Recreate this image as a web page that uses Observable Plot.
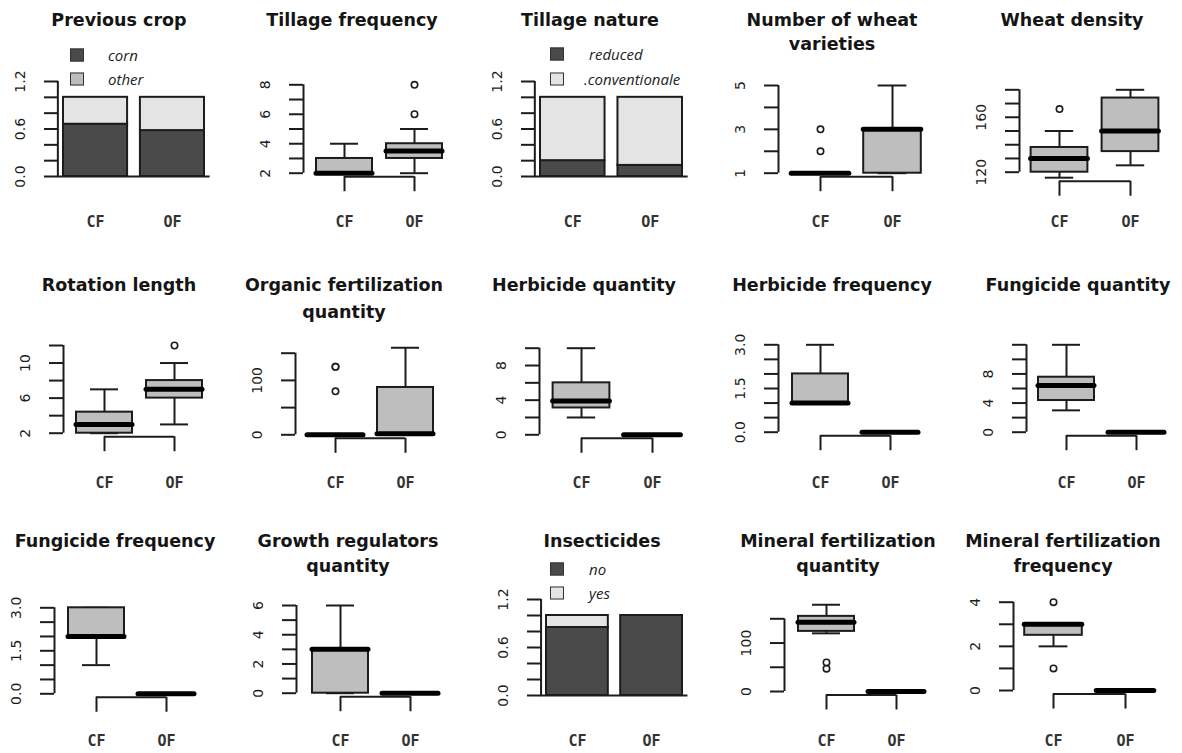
<!DOCTYPE html>
<html>
<head>
<meta charset="utf-8">
<script src="https://cdn.jsdelivr.net/npm/d3@7"></script>
<script src="https://cdn.jsdelivr.net/npm/@observablehq/plot@0.6"></script>
<style>
html, body { margin: 0; padding: 0; background: #fff; overflow: hidden; }
#root { position: relative; width: 1182px; height: 753px; overflow: hidden; background: #fff; }
.title { position: absolute; transform: translate(-50%, -50%); font-family: "DejaVu Sans", sans-serif; font-weight: bold; font-size: 17.5px; color: #151515; white-space: nowrap; line-height: 1; }
.leg { position: absolute; transform: translateY(-50%); font-family: "Open Sans", sans-serif; font-style: italic; font-size: 15px; color: #222; white-space: nowrap; line-height: 1; }
.sw { position: absolute; width: 14px; height: 13px; border: 1px solid #333; box-sizing: border-box; transform: translateY(-50%); }
</style>
</head>
<body>
<div id="root"></div>
<script>
// ---------------- DATA ----------------
const groups = ["CF", "OF"];

// stacked share bars
const shareTicks = [0, 0.2, 0.4, 0.6, 0.8, 1.0, 1.2];
const shareLabels = [0, 0.6, 1.2];
const prevCropCorn = [0.66, 0.58];
const prevCropOther = [0.34, 0.42];
const tillNatureReduced = [0.20, 0.14];
const tillNatureConv = [0.80, 0.86];
const insectNo = [0.85, 1.0];
const insectYes = [0.15, 0.0];

// box statistics: [lower whisker, Q1, median, Q3, upper whisker]
const tillFreqCF = [2, 2, 2, 3, 4];
const tillFreqOF = [2, 3, 3.5, 4, 5];
const tillFreqOutCF = [];
const tillFreqOutOF = [6, 8];
const tillFreqTicks = [2, 3, 4, 5, 6, 7, 8];
const tillFreqLabels = [2, 4, 6, 8];

const varietiesCF = [1, 1, 1, 1, 1];
const varietiesOF = [1, 1, 3, 3, 5];
const varietiesOutCF = [2, 3];
const varietiesOutOF = [];
const varietiesTicks = [1, 2, 3, 4, 5];
const varietiesLabels = [1, 3, 5];

const densityCF = [116, 120, 130, 138, 150];
const densityOF = [125, 135, 150, 174, 180];
const densityOutCF = [166];
const densityOutOF = [];
const densityTicks = [120, 130, 140, 150, 160, 170, 180];
const densityLabels = [120, 160];

const rotationCF = [2, 2, 3, 4.4, 7];
const rotationOF = [3, 6, 7, 8, 10];
const rotationOutCF = [];
const rotationOutOF = [12];
const rotationTicks = [2, 4, 6, 8, 10, 12];
const rotationLabels = [2, 6, 10];

const orgFertCF = [0, 0, 0, 0, 0];
const orgFertOF = [0, 0, 2, 87, 160];
const orgFertOutCF = [80, 125, 125];
const orgFertOutOF = [];
const orgFertTicks = [0, 50, 100, 150];
const orgFertLabels = [0, 100];

const herbQtyCF = [2, 3.1, 3.9, 6, 10];
const herbQtyOF = [0, 0, 0, 0, 0];
const herbQtyTicks = [0, 2, 4, 6, 8, 10];
const herbQtyLabels = [0, 4, 8];

const herbFreqCF = [1, 1, 1, 2, 3];
const herbFreqOF = [0, 0, 0, 0, 0];
const herbFreqTicks = [0, 0.5, 1, 1.5, 2, 2.5, 3];
const herbFreqLabels = [0, 1.5, 3];

const fungQtyCF = [3, 4.35, 6.4, 7.55, 12];
const fungQtyOF = [0, 0, 0, 0, 0];
const fungQtyTicks = [0, 2, 4, 6, 8, 10, 12];
const fungQtyLabels = [0, 4, 8];

const fungFreqCF = [1, 2, 2, 3, 3];
const fungFreqOF = [0, 0, 0, 0, 0];
const fungFreqTicks = [0, 0.5, 1, 1.5, 2, 2.5, 3];
const fungFreqLabels = [0, 1.5, 3];

const growthCF = [0, 0, 3, 3, 6];
const growthOF = [0, 0, 0, 0, 0];
const growthTicks = [0, 1, 2, 3, 4, 5, 6];
const growthLabels = [0, 2, 4, 6];

const minQtyCF = [120, 124, 143, 155, 179];
const minQtyOF = [0, 0, 0, 0, 0];
const minQtyOutCF = [47, 60];
const minQtyTicks = [0, 50, 100, 150];
const minQtyLabels = [0, 100];

const minFreqCF = [2, 2.5, 3, 3, 3];
const minFreqOF = [0, 0, 0, 0, 0];
const minFreqOutCF = [1, 4];
const minFreqTicks = [0, 1, 2, 3, 4];
const minFreqLabels = [0, 2, 4];

// ---------------- LAYOUT (page pixels) ----------------
const layout = {
  prevCrop:  {row: 0, col: 0, axis: 58,   a: 63,   b: 204,  y0: 176,   y1: 81,    title: ["Previous crop"], tx: 119},
  tillFreq:  {row: 0, col: 1, axis: 303,  a: 344,  b: 414,  y0: 172.7, y1: 84.3,  title: ["Tillage frequency"], tx: 352},
  tillNat:   {row: 0, col: 2, axis: 535,  a: 540,  b: 682,  y0: 176,   y1: 81,    title: ["Tillage nature"], tx: 590},
  varieties: {row: 0, col: 3, axis: 778,  a: 820,  b: 892,  y0: 172.7, y1: 85,    title: ["Number of wheat", "varieties"], tx: 832},
  density:   {row: 0, col: 4, axis: 1019, a: 1059, b: 1130, y0: 171.7, y1: 89.3,  title: ["Wheat density"], tx: 1072},
  rotation:  {row: 1, col: 0, axis: 63,   a: 104,  b: 174,  y0: 432.7, y1: 345,   title: ["Rotation length"], tx: 119},
  orgFert:   {row: 1, col: 1, axis: 295,  a: 335,  b: 405,  y0: 434.3, y1: 352.7, title: ["Organic fertilization", "quantity"], tx: 344},
  herbQty:   {row: 1, col: 2, axis: 539,  a: 581,  b: 652,  y0: 434.3, y1: 347.7, title: ["Herbicide quantity"], tx: 584},
  herbFreq:  {row: 1, col: 3, axis: 778,  a: 820,  b: 890,  y0: 431.7, y1: 344.3, title: ["Herbicide frequency"], tx: 832},
  fungQty:   {row: 1, col: 4, axis: 1026, a: 1066, b: 1136, y0: 431.7, y1: 344.3, title: ["Fungicide quantity"], tx: 1078},
  fungFreq:  {row: 2, col: 0, axis: 54,   a: 96,   b: 166,  y0: 693.3, y1: 607.3, title: ["Fungicide frequency"], tx: 115},
  growth:    {row: 2, col: 1, axis: 296,  a: 340,  b: 410,  y0: 692.7, y1: 605,   title: ["Growth regulators", "quantity"], tx: 348},
  insect:    {row: 2, col: 2, axis: 541,  a: 546,  b: 682,  y0: 695,   y1: 599,   title: ["Insecticides"], tx: 602},
  minQty:    {row: 2, col: 3, axis: 784,  a: 826,  b: 896,  y0: 691,   y1: 618.3, title: ["Mineral fertilization", "quantity"], tx: 838},
  minFreq:   {row: 2, col: 4, axis: 1013, a: 1053, b: 1125, y0: 690,   y1: 601.7, title: ["Mineral fertilization", "frequency"], tx: 1063}
};
const colLeft = [0, 236, 472, 708, 944];
const colWidth = [236, 236, 236, 236, 238];
const rowTop = [0, 250, 500];
const rowHeight = [250, 250, 253];
const labelRowY = [222, 483, 741];
const titleRowY = [[21, 45], [286, 313], [542, 567]];

const ink = "#1c1c1c";
const boxFill = "#bebebe";
const darkFill = "#4a4a4a";
const lightFill = "#e4e4e4";

const root = document.getElementById("root");
const fmtInt = d => String(d);
const fmt1 = d => d.toFixed(1);

function place(node, left, top) {
  node.style.position = "absolute";
  node.style.left = left + "px";
  node.style.top = top + "px";
  root.appendChild(node);
}

function addTitle(L) {
  L.title.forEach((t, i) => {
    const d = document.createElement("div");
    d.className = "title";
    d.textContent = t;
    d.style.left = L.tx + "px";
    d.style.top = titleRowY[L.row][i] + "px";
    root.appendChild(d);
  });
}

function addLegend(items, x, ys, tx) {
  items.forEach((it, i) => {
    const s = document.createElement("div");
    s.className = "sw";
    s.style.left = x + "px";
    s.style.top = ys[i] + "px";
    s.style.background = it.color;
    root.appendChild(s);
    const t = document.createElement("div");
    t.className = "leg";
    t.textContent = it.label;
    t.style.left = (tx + (it.dx || 0)) + "px";
    t.style.top = ys[i] + "px";
    root.appendChild(t);
  });
}

const plotStyle = {fontFamily: "DejaVu Sans", fontSize: "14px", color: ink, background: "transparent", overflow: "visible"};

function yAxisMarks(ticks, labels, fmt, xVal) {
  return [
    Plot.ruleX([xVal], {y1: ticks[0], y2: ticks[ticks.length - 1], stroke: ink, strokeWidth: 2}),
    Plot.axisY({
      ticks, tickSize: 14, tickPadding: 20, tickRotate: -90, strokeWidth: 2,
      fontSize: 14, label: null,
      tickFormat: d => labels.some(l => Math.abs(l - d) < 1e-9) ? fmt(d) : ""
    })
  ];
}

function boxPanel(key, cf, of, outCF, outOF, ticks, labels, fmt) {
  const L = layout[key];
  const left = colLeft[L.col], top = rowTop[L.row], W = colWidth[L.col], H = rowHeight[L.row];
  const all = [...cf, ...of, ...outCF, ...outOF];
  const dmin = d3.min(all), dmax = d3.max(all);
  const lo = dmin - 0.04 * (dmax - dmin);
  const yRange = [L.y0 - top, L.y1 - top];
  const yS = d3.scaleLinear().domain([ticks[0], ticks[ticks.length - 1]]).range(yRange);
  const axisLine = yS(lo);
  const xAxisVal = 1 - (L.a - L.axis) / (L.b - L.a);
  const boxes = [cf, of].map((s, i) => ({g: i + 1, lo: s[0], q1: s[1], med: s[2], q3: s[3], hi: s[4]}));
  const outs = [...outCF.map(v => ({g: 1, v})), ...outOF.map(v => ({g: 2, v}))];
  const labelPad = labelRowY[L.row] - top - axisLine - 15 - 6;
  const chart = Plot.plot({
    width: W, height: H,
    marginLeft: L.axis - left, marginRight: 0, marginTop: 0, marginBottom: H - axisLine,
    style: plotStyle,
    x: {domain: [1, 2], range: [L.a - left, L.b - left]},
    y: {domain: [ticks[0], ticks[ticks.length - 1]], range: yRange},
    marks: [
      Plot.ruleX(boxes, {x: "g", y1: "q3", y2: "hi", stroke: ink, strokeWidth: 2}),
      Plot.ruleX(boxes, {x: "g", y1: "lo", y2: "q1", stroke: ink, strokeWidth: 2}),
      Plot.ruleY(boxes, {y: "hi", x1: d => d.g - 0.2, x2: d => d.g + 0.2, stroke: ink, strokeWidth: 2}),
      Plot.ruleY(boxes, {y: "lo", x1: d => d.g - 0.2, x2: d => d.g + 0.2, stroke: ink, strokeWidth: 2}),
      Plot.rect(boxes.filter(b => b.q3 > b.q1), {x1: d => d.g - 0.4, x2: d => d.g + 0.4, y1: "q1", y2: "q3", fill: boxFill, stroke: ink, strokeWidth: 2}),
      Plot.ruleY(boxes, {y: "med", x1: d => d.g - 0.4, x2: d => d.g + 0.4, stroke: "#000", strokeWidth: 5, strokeLinecap: "round"}),
      Plot.dot(outs, {x: "g", y: "v", r: 3.2, stroke: ink, strokeWidth: 1.6, fill: "white"}),
      Plot.ruleY([lo], {x1: 1, x2: 2, stroke: ink, strokeWidth: 2}),
      ...yAxisMarks(ticks, labels, fmt, xAxisVal),
      Plot.axisX({ticks: [1, 2], tickFormat: d => groups[d - 1], tickSize: 15, tickPadding: labelPad, strokeWidth: 2,
        fontFamily: "DejaVu Sans Mono", fontSize: 15, fontWeight: "bold", fill: "#333", label: null})
    ]
  });
  place(chart, left, top);
  addTitle(L);
}

function barPanel(key, lower, upper) {
  const L = layout[key];
  const left = colLeft[L.col], top = rowTop[L.row], W = colWidth[L.col], H = rowHeight[L.row];
  const yRange = [L.y0 - top, L.y1 - top];
  const yS = d3.scaleLinear().domain([shareTicks[0], shareTicks[shareTicks.length - 1]]).range(yRange);
  const base = yS(0);
  const low = groups.map((g, i) => ({x1: 0.2 + 1.2 * i, x2: 1.2 + 1.2 * i, y1: 0, y2: lower[i]}));
  const up = groups.map((g, i) => ({x1: 0.2 + 1.2 * i, x2: 1.2 + 1.2 * i, y1: lower[i], y2: lower[i] + upper[i]}));
  const xAxisVal = 0.2 - 0.04 * 2.2, xRight = 2.4 + 0.04 * 2.2;
  const labelPad = labelRowY[L.row] - top - base - 6;
  const chart = Plot.plot({
    width: W, height: H,
    marginLeft: L.axis - left, marginRight: 0, marginTop: 0, marginBottom: H - base,
    style: plotStyle,
    x: {domain: [0.2, 2.4], range: [L.a - left, L.b - left]},
    y: {domain: [shareTicks[0], shareTicks[shareTicks.length - 1]], range: yRange},
    marks: [
      Plot.rect(low, {x1: "x1", x2: "x2", y1: "y1", y2: "y2", fill: darkFill, stroke: ink, strokeWidth: 2}),
      Plot.rect(up, {x1: "x1", x2: "x2", y1: "y1", y2: "y2", fill: lightFill, stroke: ink, strokeWidth: 2}),
      Plot.ruleY([0], {x1: xAxisVal, x2: xRight, stroke: ink, strokeWidth: 2}),
      ...yAxisMarks(shareTicks, shareLabels, fmt1, xAxisVal),
      Plot.axisX({ticks: [0.7, 1.9], tickFormat: d => groups[Math.round((d - 0.7) / 1.2)], tickSize: 0, tickPadding: labelPad,
        fontFamily: "DejaVu Sans Mono", fontSize: 15, fontWeight: "bold", fill: "#333", label: null})
    ]
  });
  place(chart, left, top);
  addTitle(L);
}

// ---------------- PANELS ----------------
barPanel("prevCrop", prevCropCorn, prevCropOther);
addLegend([{label: "corn", color: darkFill}, {label: "other", color: "#bdbdbd"}], 70, [55, 79], 108);

boxPanel("tillFreq", tillFreqCF, tillFreqOF, tillFreqOutCF, tillFreqOutOF, tillFreqTicks, tillFreqLabels, fmtInt);

barPanel("tillNat", tillNatureReduced, tillNatureConv);
addLegend([{label: "reduced", color: darkFill}, {label: ".conventionale", color: lightFill, dx: -5}], 550, [54, 79], 589);

boxPanel("varieties", varietiesCF, varietiesOF, varietiesOutCF, varietiesOutOF, varietiesTicks, varietiesLabels, fmtInt);
boxPanel("density", densityCF, densityOF, densityOutCF, densityOutOF, densityTicks, densityLabels, fmtInt);

boxPanel("rotation", rotationCF, rotationOF, rotationOutCF, rotationOutOF, rotationTicks, rotationLabels, fmtInt);
boxPanel("orgFert", orgFertCF, orgFertOF, orgFertOutCF, orgFertOutOF, orgFertTicks, orgFertLabels, fmtInt);
boxPanel("herbQty", herbQtyCF, herbQtyOF, [], [], herbQtyTicks, herbQtyLabels, fmtInt);
boxPanel("herbFreq", herbFreqCF, herbFreqOF, [], [], herbFreqTicks, herbFreqLabels, fmt1);
boxPanel("fungQty", fungQtyCF, fungQtyOF, [], [], fungQtyTicks, fungQtyLabels, fmtInt);

boxPanel("fungFreq", fungFreqCF, fungFreqOF, [], [], fungFreqTicks, fungFreqLabels, fmt1);
boxPanel("growth", growthCF, growthOF, [], [], growthTicks, growthLabels, fmtInt);

barPanel("insect", insectNo, insectYes);
addLegend([{label: "no", color: darkFill}, {label: "yes", color: lightFill}], 550, [569, 593], 589);

boxPanel("minQty", minQtyCF, minQtyOF, minQtyOutCF, [], minQtyTicks, minQtyLabels, fmtInt);
boxPanel("minFreq", minFreqCF, minFreqOF, minFreqOutCF, [], minFreqTicks, minFreqLabels, fmtInt);
</script>
</body>
</html>
